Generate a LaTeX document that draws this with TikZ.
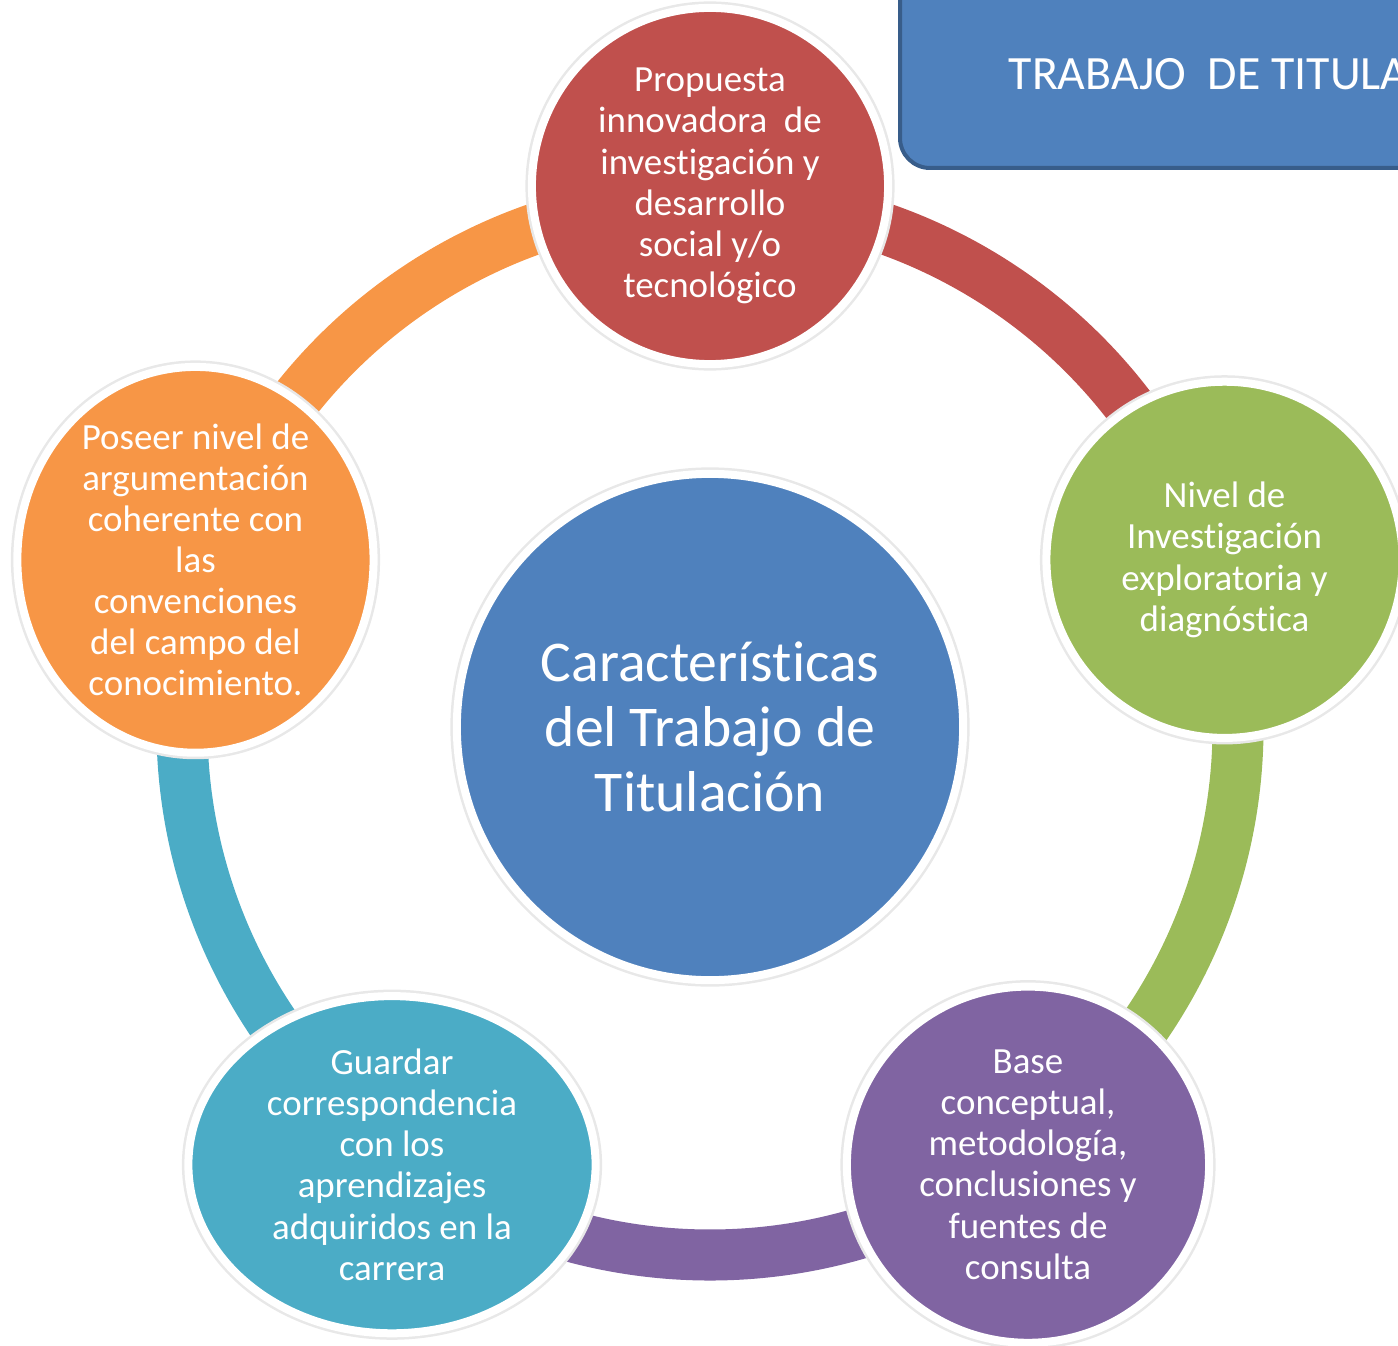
\documentclass[tikz,border=0pt]{standalone}
\usepackage{fontspec}
\setmainfont{Carlito}[Ligatures=NoCommon]
\usetikzlibrary{shapes.geometric}

\definecolor{rojo}{HTML}{C0504D}
\definecolor{verde}{HTML}{9BBB59}
\definecolor{morado}{HTML}{8064A2}
\definecolor{turquesa}{HTML}{4BACC6}
\definecolor{naranja}{HTML}{F79646}
\definecolor{azul}{HTML}{4F81BD}
\definecolor{azuloscuro}{HTML}{385D8A}

\begin{document}
\begin{tikzpicture}[x=0.01cm, y=0.01cm,
    item/.style={ellipse, minimum width=3.56cm, minimum height=3.56cm, inner sep=0pt, draw=white, line width=0.08cm,
      text=white, align=center, font=\fontsize{10.5}{11.7}\selectfont,
      preaction={draw=black!9, line width=0.13cm}},
    ringseg/.style={line width=0.51cm}]
    \clip (-710, -618) rectangle (688, 727);

    \def\rr{528}
    \def\rc{541}

    % title box
    \draw[fill=azul, draw=azuloscuro, line width=0.04cm, rounded corners=0.3cm] (190, 559) rectangle (900, 800);
    \node[anchor=base west, text=white, font=\fontsize{13.6}{16}\selectfont, inner sep=0pt] (titulo) at (298, 637) {TRABAJO\ \ DE TITULACIÓN};

    % ring
    \coordinate (r1) at (90:\rr);
    \coordinate (r2) at (18:\rr);
    \coordinate (r3) at (-54:\rr);
    \coordinate (r4) at (-126:\rr);
    \coordinate (r5) at (162:\rr);
    \draw[ringseg, rojo] (r1) arc[start angle=90, end angle=18, radius=\rr];
    \draw[ringseg, verde] (r2) arc[start angle=18, end angle=-54, radius=\rr];
    \draw[ringseg, morado] (r3) arc[start angle=-54, end angle=-126, radius=\rr];
    \draw[ringseg, turquesa] (r4) arc[start angle=-126, end angle=-198, radius=\rr];
    \draw[ringseg, naranja] (r5) arc[start angle=162, end angle=90, radius=\rr];

    \node[item, fill=rojo] (propuesta) at (90:\rc) {Propuesta\\innovadora\ \ de\\investigación y\\desarrollo\\social y/o\\tecnológico};
    \node[item, fill=verde] (nivel) at (18:\rc) {Nivel de\\Investigación\\exploratoria y\\diagnóstica};
    \node[item, fill=morado, minimum width=3.62cm] (base) at (-54:\rc) {Base\\conceptual,\\metodología,\\conclusiones y\\fuentes de\\consulta};
    \node[item, fill=turquesa, minimum width=4.07cm, minimum height=3.37cm] (guardar) at (-126:\rc) {Guardar\\correspondencia\\con los\\aprendizajes\\adquiridos en la\\carrera};
    \node[item, fill=naranja] (poseer) at (162:\rc) {Poseer nivel de\\argumentación\\coherente con\\las\\convenciones\\del campo del\\conocimiento.};

    \node[item, fill=azul, minimum width=5.06cm, minimum height=5.06cm, font=\fontsize{16.4}{18.5}\selectfont] (centro) at (0, 0) {Características\\del Trabajo de\\Titulación};
\end{tikzpicture}
\end{document}
